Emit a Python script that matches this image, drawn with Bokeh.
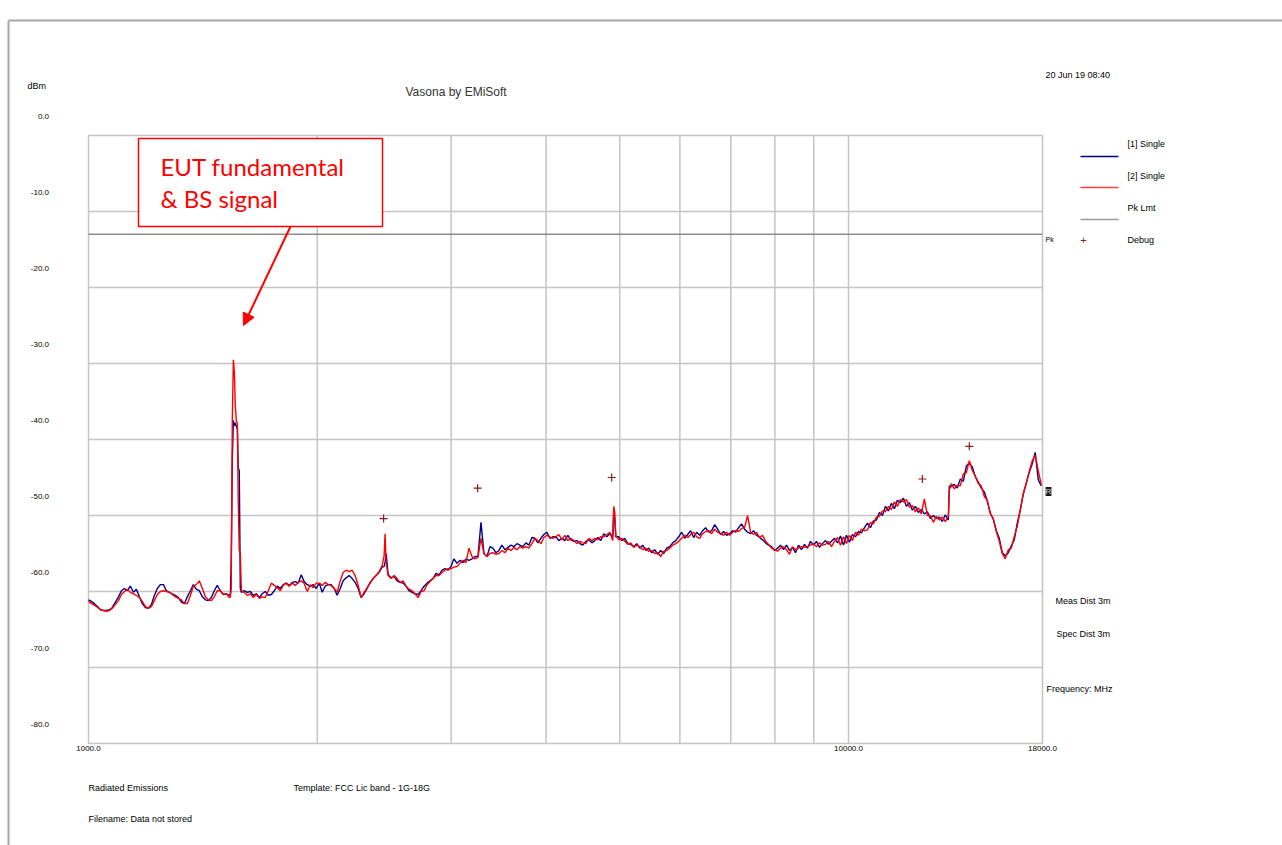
from bokeh.plotting import figure
from bokeh.models import Label, BoxAnnotation, Arrow, NormalHead, Range1d
from bokeh.core.properties import value
from bokeh.embed import file_html
from bokeh.resources import INLINE

# ---- sweep data (MHz / dBm) ----
freq_mhz = [
    1000, 1009, 1018, 1028, 1037, 1046, 1056, 1066, 1075, 1085,
    1095, 1105, 1115, 1125, 1135, 1146, 1156, 1167, 1177, 1188,
    1199, 1210, 1221, 1232, 1243, 1255, 1266, 1278, 1289, 1301,
    1313, 1325, 1337, 1349, 1362, 1374, 1386, 1399, 1412, 1425,
    1438, 1451, 1464, 1477, 1491, 1505, 1518, 1532, 1537, 1541, 1546, 1551, 1556, 1560, 1565, 1570,
    1574, 1579, 1584, 1589, 1603, 1618, 1633, 1647, 1663, 1678, 1693, 1708,
    1724, 1740, 1756, 1772, 1788, 1804, 1820, 1837, 1854, 1871,
    1888, 1905, 1922, 1940, 1958, 1975, 1993, 2012, 2030, 2048,
    2067, 2086, 2105, 2124, 2144, 2163, 2183, 2203, 2223, 2243,
    2264, 2284, 2305, 2326, 2347, 2369, 2390, 2412, 2434, 2449, 2456, 2464,
    2479, 2501, 2524, 2547, 2570, 2594, 2617, 2641, 2665, 2690,
    2714, 2739, 2764, 2789, 2814, 2840, 2866, 2892, 2919, 2945,
    2972, 2999, 3026, 3054, 3082, 3110, 3138, 3167, 3196, 3225,
    3254, 3284, 3314, 3344, 3375, 3405, 3436, 3468, 3499, 3531,
    3564, 3596, 3629, 3662, 3695, 3729, 3763, 3797, 3832, 3867,
    3902, 3938, 3974, 4010, 4046, 4083, 4121, 4158, 4196, 4234,
    4273, 4312, 4351, 4391, 4431, 4471, 4512, 4553, 4595, 4637,
    4679, 4721, 4765, 4808, 4852, 4896, 4911, 4926, 4941, 4986, 5031, 5077,
    5123, 5170, 5217, 5265, 5313, 5361, 5410, 5459, 5509, 5559,
    5610, 5661, 5713, 5765, 5818, 5871, 5924, 5978, 6033, 6088,
    6143, 6199, 6256, 6313, 6370, 6428, 6487, 6546, 6606, 6666,
    6727, 6788, 6850, 6913, 6976, 7039, 7103, 7168, 7233, 7299,
    7366, 7433, 7501, 7569, 7638, 7708, 7778, 7849, 7921, 7993,
    8066, 8139, 8213, 8288, 8364, 8440, 8517, 8595, 8673, 8752,
    8832, 8913, 8994, 9076, 9159, 9242, 9326, 9411, 9497, 9584,
    9672, 9760, 9849, 9939, 10030, 10121, 10213, 10307, 10400, 10495,
    10591, 10688, 10785, 10883, 10983, 11083, 11184, 11286, 11389, 11493,
    11597, 11703, 11809, 11917, 12026, 12135, 12246, 12358, 12470, 12584,
    12699, 12815, 12932, 13050, 13169, 13289, 13410, 13532, 13573, 13655, 13780,
    13906, 14033, 14161, 14290, 14420, 14552, 14684, 14818, 14953, 15090,
    15228, 15367, 15507, 15648, 15791, 15935, 16080, 16227, 16375, 16524,
    16675, 16827, 16981, 17135, 17292, 17449, 17608, 17769, 17931,
]

# trace [1] Single
trace1_dbm = [
    -61.1, -61.3, -61.6, -62.0, -62.4, -62.5, -62.5, -62.4, -62.1, -61.4,
    -60.7, -59.9, -59.6, -59.9, -59.3, -60.1, -59.7, -60.7, -61.6, -62.1,
    -62.2, -61.7, -60.5, -59.6, -59.1, -59.1, -59.9, -60.1, -60.3, -60.5,
    -60.8, -61.4, -61.6, -60.7, -59.9, -59.1, -59.7, -59.9, -60.7, -61.1,
    -61.2, -60.8, -59.9, -59.2, -59.9, -60.4, -60.3, -60.5, -60.4, -55.9, -42.8, -37.5, -38.2, -37.8, -38.3, -38.6,
    -43.7, -44.1, -59.6, -60.1, -59.9, -60.1, -60.0, -60.5, -60.3, -60.8, -60.3, -60.0,
    -60.5, -60.4, -59.9, -59.3, -59.6, -59.1, -58.9, -59.2, -58.8, -58.7,
    -58.9, -57.8, -58.7, -59.1, -59.3, -59.1, -59.6, -58.9, -60.1, -59.3,
    -59.1, -59.1, -59.6, -60.5, -59.6, -58.6, -58.2, -57.9, -58.3, -58.8,
    -59.6, -60.8, -60.3, -59.6, -58.8, -58.3, -57.9, -57.5, -56.8, -56.7, -56.2, -55.0,
    -57.8, -58.2, -58.0, -58.6, -58.8, -58.9, -59.3, -59.9, -60.1, -60.3,
    -60.4, -59.9, -59.3, -58.9, -58.6, -58.3, -57.6, -57.8, -57.2, -57.0,
    -57.2, -56.7, -55.7, -56.3, -55.9, -56.2, -55.7, -55.9, -55.7, -55.4,
    -55.4, -50.9, -55.0, -55.4, -54.1, -54.3, -54.9, -54.6, -53.9, -54.5,
    -54.2, -53.9, -54.1, -53.7, -53.9, -54.1, -53.6, -53.9, -52.9, -53.0,
    -53.6, -53.0, -52.5, -52.2, -53.0, -52.8, -52.8, -53.3, -53.0, -53.3,
    -52.6, -53.2, -53.4, -53.3, -53.7, -53.9, -53.4, -53.2, -53.6, -53.3,
    -52.9, -53.3, -52.4, -52.8, -52.4, -52.8, -49.3, -50.7, -52.8, -52.8, -53.3, -53.0,
    -53.7, -53.8, -54.1, -53.7, -54.3, -53.9, -54.6, -54.3, -54.9, -54.5,
    -55.1, -54.6, -55.0, -54.3, -54.1, -53.6, -53.3, -52.8, -52.2, -53.0,
    -52.5, -52.0, -52.9, -52.2, -52.6, -52.0, -51.6, -52.2, -52.0, -51.2,
    -51.8, -52.5, -52.1, -52.6, -52.4, -52.0, -52.2, -51.6, -51.1, -51.8,
    -52.2, -52.4, -52.0, -52.6, -52.9, -53.2, -53.6, -53.9, -54.1, -54.6,
    -54.3, -53.9, -54.5, -53.9, -54.6, -54.2, -54.9, -53.9, -54.5, -53.8,
    -54.3, -53.4, -53.9, -53.4, -54.2, -53.7, -53.3, -53.8, -53.4, -53.0,
    -53.6, -52.7, -53.9, -52.6, -53.5, -52.5, -52.8, -52.1, -52.3, -51.6,
    -51.0, -51.6, -50.7, -50.6, -49.6, -50.0, -48.8, -49.4, -48.4, -49.1,
    -48.0, -48.3, -47.7, -48.8, -48.3, -49.3, -48.8, -49.6, -49.2, -49.8,
    -49.5, -50.4, -50.0, -50.4, -50.2, -50.8, -49.9, -50.6, -46.1, -46.2, -45.9,
    -46.4, -45.2, -45.5, -43.5, -43.1, -43.6, -44.9, -45.6, -46.4, -46.9,
    -48.1, -49.7, -50.5, -52.0, -53.0, -54.9, -55.3, -54.9, -54.0, -53.2,
    -51.0, -49.3, -47.2, -45.7, -44.3, -43.2, -41.7, -45.3, -46.1,
]

# trace [2] Single
trace2_dbm = [
    -61.3, -61.6, -61.8, -62.1, -62.4, -62.5, -62.6, -62.5, -62.2, -61.7,
    -61.2, -60.4, -60.0, -59.7, -60.1, -60.3, -60.5, -60.8, -61.3, -62.0,
    -62.2, -62.0, -61.2, -60.4, -60.0, -59.9, -60.0, -60.1, -60.4, -60.7,
    -60.9, -61.1, -61.6, -61.6, -60.5, -59.3, -59.1, -58.6, -59.6, -60.7,
    -61.1, -61.2, -60.7, -59.9, -59.9, -60.4, -60.3, -60.8, -60.7, -59.6, -37.5, -29.5, -31.3, -35.5, -37.5, -37.9,
    -48.0, -54.6, -54.9, -59.9, -60.1, -60.5, -60.3, -60.8, -60.4, -60.9, -60.7, -60.8,
    -59.9, -58.9, -59.2, -59.5, -59.9, -59.2, -58.9, -59.3, -58.9, -59.2,
    -58.8, -58.6, -58.9, -60.0, -59.1, -59.5, -58.9, -58.9, -59.2, -58.8,
    -59.1, -59.2, -59.6, -60.1, -58.6, -57.5, -57.2, -57.4, -57.2, -57.9,
    -59.2, -60.8, -60.1, -59.5, -58.9, -58.3, -57.9, -57.4, -56.6, -55.3, -52.4, -56.2,
    -57.9, -58.3, -57.9, -58.3, -58.8, -58.6, -59.3, -59.7, -59.9, -60.3,
    -60.8, -60.0, -59.9, -59.1, -58.7, -58.3, -57.9, -57.9, -57.5, -57.2,
    -57.0, -57.0, -56.8, -56.7, -56.3, -55.9, -56.2, -54.3, -55.4, -55.7,
    -55.5, -53.0, -55.0, -55.4, -55.0, -54.9, -55.1, -55.0, -54.6, -54.9,
    -54.3, -54.6, -54.2, -54.5, -54.1, -54.3, -54.1, -54.3, -53.7, -53.0,
    -53.3, -53.7, -52.9, -52.6, -52.8, -53.0, -52.8, -52.5, -53.2, -52.6,
    -53.3, -53.0, -53.3, -53.7, -53.4, -53.6, -53.7, -53.0, -53.3, -53.0,
    -53.2, -52.8, -52.8, -52.5, -52.2, -53.3, -48.8, -49.6, -52.6, -53.2, -53.0, -53.4,
    -53.8, -53.6, -54.2, -53.9, -54.1, -54.5, -54.3, -54.7, -54.6, -55.0,
    -54.9, -55.4, -54.7, -54.6, -54.3, -53.9, -53.7, -53.4, -53.0, -52.6,
    -52.9, -52.5, -52.2, -52.8, -53.0, -52.4, -52.1, -52.0, -52.4, -51.8,
    -52.2, -52.4, -52.6, -52.2, -52.6, -52.2, -52.0, -52.1, -51.7, -51.6,
    -50.0, -52.2, -52.5, -52.2, -52.9, -52.6, -53.4, -53.8, -54.3, -54.5,
    -54.7, -54.3, -54.1, -54.5, -55.1, -54.1, -54.5, -54.3, -54.1, -54.2,
    -54.1, -53.9, -53.7, -54.1, -53.6, -53.9, -53.8, -53.4, -54.1, -53.4,
    -52.9, -53.9, -52.8, -53.7, -52.6, -53.3, -52.2, -52.6, -51.8, -52.0,
    -51.9, -50.9, -51.1, -50.2, -50.1, -49.4, -49.5, -48.8, -49.2, -48.2,
    -48.8, -47.9, -48.2, -47.9, -48.9, -48.7, -49.5, -49.0, -49.8, -47.8,
    -50.0, -50.0, -50.9, -50.1, -50.6, -50.2, -50.8, -50.1, -46.7, -45.8, -46.5,
    -46.0, -46.1, -44.5, -44.4, -42.8, -44.1, -44.8, -45.8, -46.1, -47.5,
    -48.0, -49.7, -50.4, -52.1, -53.4, -55.0, -55.7, -54.5, -54.3, -52.8,
    -51.4, -49.3, -47.1, -45.8, -44.2, -42.8, -42.1, -44.1, -45.9,
]

# peak limit line and debug markers
limit_freq_mhz = [1000, 18000]
limit_dbm = [-13.0, -13.0]
debug_freq_mhz = [2445, 3251, 4880, 12508, 14420]
debug_dbm = [-50.4, -46.4, -45.0, -45.2, -40.9]

# axis ticks and their labels
y_ticks = [0, -10, -20, -30, -40, -50, -60, -70, -80]
y_tick_labels = ["0.0", "-10.0", "-20.0", "-30.0", "-40.0", "-50.0", "-60.0", "-70.0", "-80.0"]
x_label_ticks = [1000, 10000, 18000]
x_tick_labels = ["1000.0", "10000.0", "18000.0"]
x_grid_ticks = [2000, 3000, 4000, 5000, 6000, 7000, 8000, 9000, 10000]
y_grid_ticks = [-10, -20, -30, -40, -50, -60, -70]

# ---- page geometry: the plot box inside the printed page ----
W, H = 1282, 845
LEFT, RIGHT, TOP, BOTTOM = 88, 1042, 135, 743
F_MIN, F_MAX = 1000, 18000
DB_MIN, DB_MAX = -80, 0


def cx(px):
    """page pixel column -> frequency coordinate (log scale)"""
    return F_MIN * (F_MAX / F_MIN) ** ((px - LEFT) / (RIGHT - LEFT))


def cy(py):
    """page pixel row -> dBm coordinate"""
    return DB_MAX - (DB_MAX - DB_MIN) * (py - TOP) / (BOTTOM - TOP)


# the figure spans the whole page so the surrounding report text can be drawn
p = figure(width=W, height=H, x_axis_type="log",
           x_range=Range1d(cx(0), cx(W)), y_range=Range1d(cy(H), cy(0)),
           x_axis_location=None, y_axis_location=None,
           output_backend="svg", toolbar_location=None,
           min_border=0)
p.grid.visible = False
p.outline_line_color = None
p.background_fill_color = "white"
p.border_fill_color = "white"

GRID = "#c4c4c4"
FONT = "Liberation Sans"
INK = "#000000"

# grid lines and plot box
p.segment(x0=x_grid_ticks, y0=[DB_MIN] * len(x_grid_ticks),
          x1=x_grid_ticks, y1=[DB_MAX] * len(x_grid_ticks),
          line_color=GRID, line_width=1.5)
p.segment(x0=[F_MIN] * len(y_grid_ticks), y0=y_grid_ticks,
          x1=[F_MAX] * len(y_grid_ticks), y1=y_grid_ticks,
          line_color=GRID, line_width=1.5)
p.quad(left=[F_MIN], right=[F_MAX], bottom=[DB_MIN], top=[DB_MAX],
       fill_color=None, line_color=GRID, line_width=1.5)

# traces
p.line(limit_freq_mhz, limit_dbm, line_color="#8c8c8c", line_width=1.5)
p.line(freq_mhz, trace1_dbm, line_color="#00008b", line_width=1.4)
p.line(freq_mhz, trace2_dbm, line_color="#ff0000", line_width=1.4)
p.scatter(debug_freq_mhz, debug_dbm, marker="cross", size=8,
          line_color="#8b1a1a", line_width=1.2)

# tick labels (value labels sit a little above their grid lines)
p.text(x=[cx(48.5)] * len(y_ticks), y=[v + 2.5 for v in y_ticks],
       text=y_tick_labels, text_font=value(FONT), text_font_size="8px",
       text_align="right", text_baseline="middle", text_color=INK)
p.text(x=x_label_ticks, y=[cy(748)] * len(x_label_ticks), text=x_tick_labels,
       text_font=value(FONT), text_font_size="8px", text_align="center",
       text_baseline="middle", text_color=INK)


def text(px, py, s, size="9px", align="left", color=INK, font=FONT, **kw):
    p.add_layout(Label(x=cx(px), y=cy(py), text=s, text_font=font,
                       text_font_size=size, text_align=align,
                       text_baseline="middle", text_color=color, **kw))


def rule(x0, y0, x1, y1, color, width=1.5):
    p.add_layout(Arrow(end=None, x_start=cx(x0), y_start=cy(y0),
                       x_end=cx(x1), y_end=cy(y1),
                       line_color=color, line_width=width))


# page edges
rule(8, 20, 8, 845, "#a8a8a8", 2)
rule(8, 20, 1282, 20, "#a8a8a8", 2)

text(27, 85, "dBm", size="9px")
text(405, 91, "Vasona by EMiSoft", size="12px", color="#333333")
text(1045, 74, "20 Jun 19 08:40", size="9px")

# legend
text(1127, 143, "[1] Single")
text(1127, 175, "[2] Single")
text(1127, 207, "Pk Lmt")
text(1127, 239, "Debug")
rule(1080, 156, 1118, 156, "#00008b")
rule(1080, 187, 1118, 187, "#ff4040")
rule(1080, 219, 1118, 219, "#9a9a9a")
text(1083, 239, "+", size="11px", align="center", color="#8b1a1a")
text(1045, 239, "Pk", size="7px")

text(1055, 600, "Meas Dist 3m")
text(1056, 633, "Spec Dist 3m")
text(1046, 688, "Frequency: MHz")

text(88, 787, "Radiated Emissions")
text(293, 787, "Template: FCC Lic band - 1G-18G")
text(88, 818, "Filename: Data not stored")

# marker tag at the trace end
text(1048, 491, "R", size="8px", align="center", color="#dddddd",
     background_fill_color="#1a1a1a")

# callout
p.add_layout(BoxAnnotation(left=cx(138), right=cx(382), top=cy(138),
                           bottom=cy(226), fill_color="white", fill_alpha=1.0,
                           line_color="#ff0000", line_alpha=1.0, line_width=1.5))
text(160, 166, "EUT fundamental", size="24px", color="#ff0000", font="Lato")
text(160, 198, "& BS signal", size="24px", color="#ff0000", font="Lato")
p.add_layout(Arrow(end=NormalHead(size=12, fill_color="#ff0000",
                                  line_color="#ff0000"),
                   x_start=cx(290), y_start=cy(226), x_end=cx(243),
                   y_end=cy(325), line_color="#ff0000", line_width=2))

open("out.html", "w").write(file_html(p, INLINE))
